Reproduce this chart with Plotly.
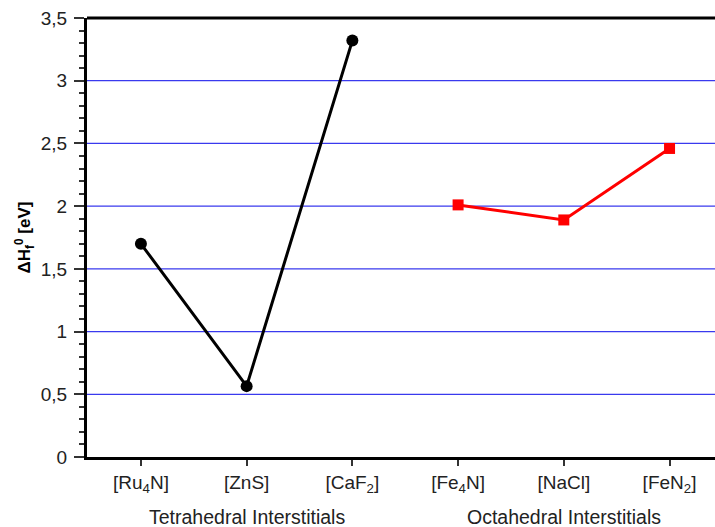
import plotly.graph_objects as go

tetra_labels = ["[Ru<sub>4</sub>N]", "[ZnS]", "[CaF<sub>2</sub>]"]
tetra_values = [1.70, 0.565, 3.32]
octa_labels = ["[Fe<sub>4</sub>N]", "[NaCl]", "[FeN<sub>2</sub>]"]
octa_values = [2.01, 1.89, 2.46]
y_tick_vals = [0, 0.5, 1, 1.5, 2, 2.5, 3, 3.5]
y_tick_text = ["0", "0,5", "1", "1,5", "2", "2,5", "3", "3,5"]
group_titles = ["Tetrahedral Interstitials", "Octahedral Interstitials"]

all_labels = tetra_labels + octa_labels
x_tetra = [0, 1, 2]
x_octa = [3, 4, 5]

fig = go.Figure()
fig.add_trace(go.Scatter(x=x_tetra, y=tetra_values, mode="lines+markers",
                         line=dict(color="black", width=3),
                         marker=dict(symbol="circle", size=12, color="black"),
                         showlegend=False, cliponaxis=False))
fig.add_trace(go.Scatter(x=x_octa, y=octa_values, mode="lines+markers",
                         line=dict(color="#ff0000", width=3),
                         marker=dict(symbol="square", size=11, color="#ff0000"),
                         showlegend=False, cliponaxis=False))

font = dict(family="Liberation Sans, Arial, sans-serif", size=19, color="#222")
title_font = dict(family="Liberation Sans, Arial, sans-serif", size=19.5, color="#222")

fig.update_layout(
    width=715, height=527,
    margin=dict(l=87, r=0, t=18, b=70),
    plot_bgcolor="white", paper_bgcolor="white",
    font=font,
    xaxis=dict(range=[-0.51, 5.43], tickmode="array", tickvals=list(range(6)),
               ticktext=all_labels, showgrid=False, zeroline=False,
               showline=True, linecolor="black", linewidth=3,
               ticks="outside", ticklen=6, tickwidth=1.5, tickcolor="#333",
               tickfont=font),
    yaxis=dict(range=[0, 3.5], tickmode="array", tickvals=y_tick_vals,
               ticktext=y_tick_text, showgrid=False, zeroline=False,
               showline=True, linecolor="black", linewidth=3,
               ticks="outside", ticklen=10, tickwidth=1.5, tickcolor="#333",
               tickfont=font, ticklabelstandoff=3,
               minor=dict(dtick=0.1, ticks="outside", ticklen=5, tickwidth=1.5,
                          tickcolor="#333", showgrid=False),
               title=dict(text="<b>ΔH<sub>f</sub><sup>0</sup> [eV]</b>",
                          font=dict(family="Liberation Sans, Arial, sans-serif", size=17, color="black"),
                          standoff=6)),
)

for v in y_tick_vals[1:-1]:
    fig.add_shape(type="line", xref="paper", yref="y", x0=0, x1=1, y0=v, y1=v,
                  line=dict(color="#3a3aee", width=1.2), layer="below")

fig.add_shape(type="line", xref="paper", yref="paper", x0=0, x1=1, y0=1, y1=1,
              line=dict(color="black", width=3))

fig.add_annotation(x=1, xref="x", y=-0.137, yref="paper", text=group_titles[0],
                   showarrow=False, font=title_font, yanchor="middle")
fig.add_annotation(x=4, xref="x", y=-0.137, yref="paper", text=group_titles[1],
                   showarrow=False, font=title_font, yanchor="middle")

fig.write_html("out.html", config={"displayModeBar": False},
               post_script="document.body.style.margin='0';document.body.style.overflow='hidden';")
